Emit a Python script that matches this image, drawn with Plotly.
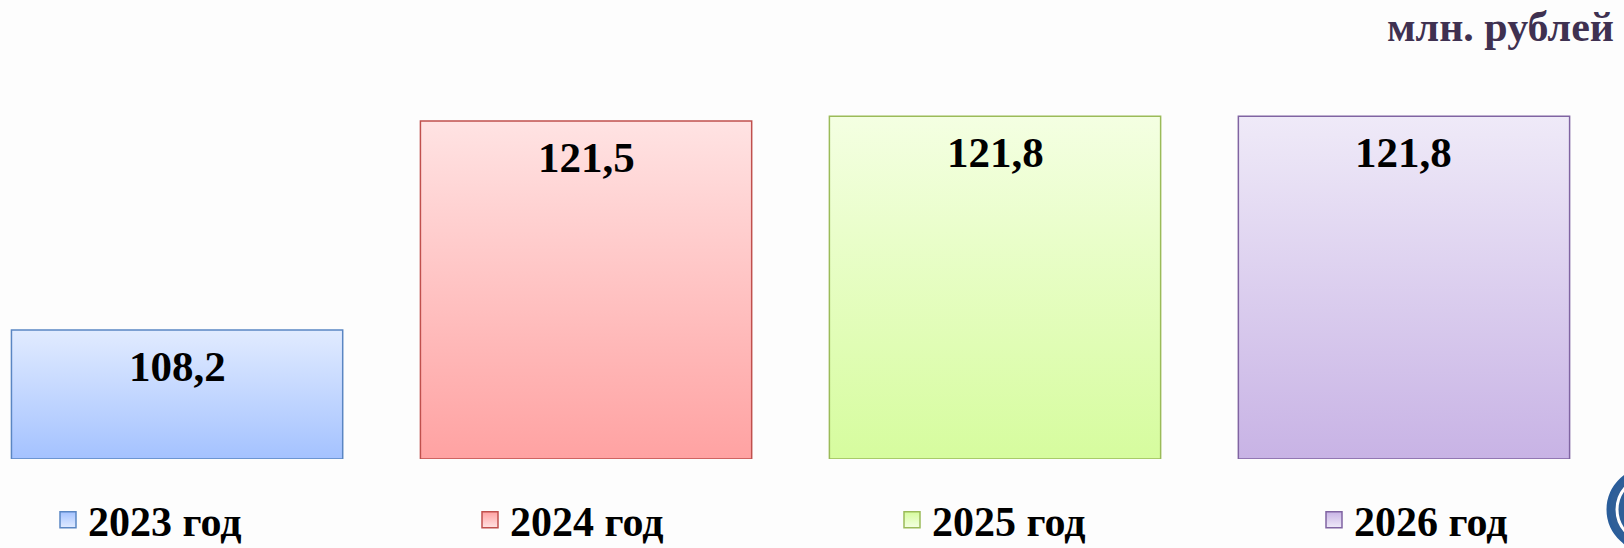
import plotly.graph_objects as go

# данные
years = ['2023 год', '2024 год', '2025 год', '2026 год']
values = [108.2, 121.5, 121.8, 121.8]
base_value = 100

# цвета: верх градиента, низ градиента, рамка
top_colors = ['#e1ebff', '#ffe3e3', '#f4ffe2', '#efeaf8']
bottom_colors = ['#a4c2ff', '#ffa2a2', '#d6fc9e', '#c8b3e5']
line_colors = ['#5a86c3', '#c0504d', '#9bbb59', '#8064a2']

bar_w = 0.81
W, H = 1624, 548
legend_font = dict(family='Liberation Serif', size=42, color='black', weight='bold')

fig = go.Figure()

for i, (name, v) in enumerate(zip(years, values)):
    leg = 'legend' if i == 0 else f'legend{i + 1}'
    # столбец с вертикальным градиентом
    x0, x1 = i - bar_w / 2, i + bar_w / 2
    fig.add_trace(go.Scatter(
        x=[x0, x1, x1, x0, x0],
        y=[base_value, base_value, v, v, base_value],
        mode='lines',
        fill='toself',
        fillgradient=dict(
            type='vertical',
            start=base_value,
            stop=v,
            colorscale=[[0, bottom_colors[i]], [1, top_colors[i]]],
        ),
        line=dict(color=line_colors[i], width=1.5),
        hoverinfo='skip',
        showlegend=False,
    ))
    # элемент легенды (у каждого года своя легенда, чтобы стояли как в оригинале)
    fig.add_trace(go.Scatter(
        x=[None], y=[None],
        mode='markers',
        name=name,
        legend=leg,
        marker=dict(
            symbol='square',
            size=16,
            color=bottom_colors[i],
            gradient=dict(type='vertical', color=top_colors[i]),
            line=dict(color=line_colors[i], width=1.5),
        ),
    ))
    # подпись значения
    fig.add_annotation(
        x=i, y=v,
        text=f"{v:.1f}".replace('.', ','),
        showarrow=False,
        yanchor='top',
        yshift=-11,
        font=dict(family='Liberation Serif', size=43, color='black', weight='bold'),
    )

legends = {}
for i in range(len(years)):
    key = 'legend' if i == 0 else f'legend{i + 1}'
    legends[key] = dict(
        orientation='h',
        xref='container', yref='container',
        x=(48 + 422 * i) / W,
        y=1 - 520 / H,
        xanchor='left',
        yanchor='middle',
        font=legend_font,
        bgcolor='rgba(0,0,0,0)',
    )

fig.add_annotation(
    xref='paper', yref='paper',
    x=1, y=1,
    xanchor='right', yanchor='bottom',
    xshift=-8, yshift=37,
    text='млн. рублей',
    showarrow=False,
    font=dict(family='Liberation Serif', size=42, color='#3f3151', weight='bold'),
)

# кусочек логотипа в правом нижнем углу
fig.add_shape(
    type='circle', xref='paper', yref='paper',
    x0=1608 / W, x1=1700 / W, y0=-(560 - 459) / 399, y1=-(467 - 459) / 399,
    line=dict(color='#2a5d9a', width=3),
    fillcolor='#2f5f98',
)
fig.add_shape(
    type='circle', xref='paper', yref='paper',
    x0=1617 / W, x1=1691 / W, y0=-(551 - 459) / 399, y1=-(476 - 459) / 399,
    line=dict(color='white', width=3),
    fillcolor='rgba(0,0,0,0)',
)

fig.update_layout(
    width=W,
    height=H,
    margin=dict(l=0, r=0, t=89, b=89),
    paper_bgcolor='#fdfdfd',
    plot_bgcolor='#fdfdfd',
    showlegend=True,
    xaxis=dict(
        range=[-0.433, 3.538],
        visible=False,
        fixedrange=True,
    ),
    yaxis=dict(
        range=[100, 100 + 370 / 15.72],
        visible=False,
        fixedrange=True,
    ),
    **legends,
)

fig.write_html(
    "out.html",
    config={'displayModeBar': False},
    post_script="document.body.style.margin='0';document.body.style.background='#fdfdfd';",
)
